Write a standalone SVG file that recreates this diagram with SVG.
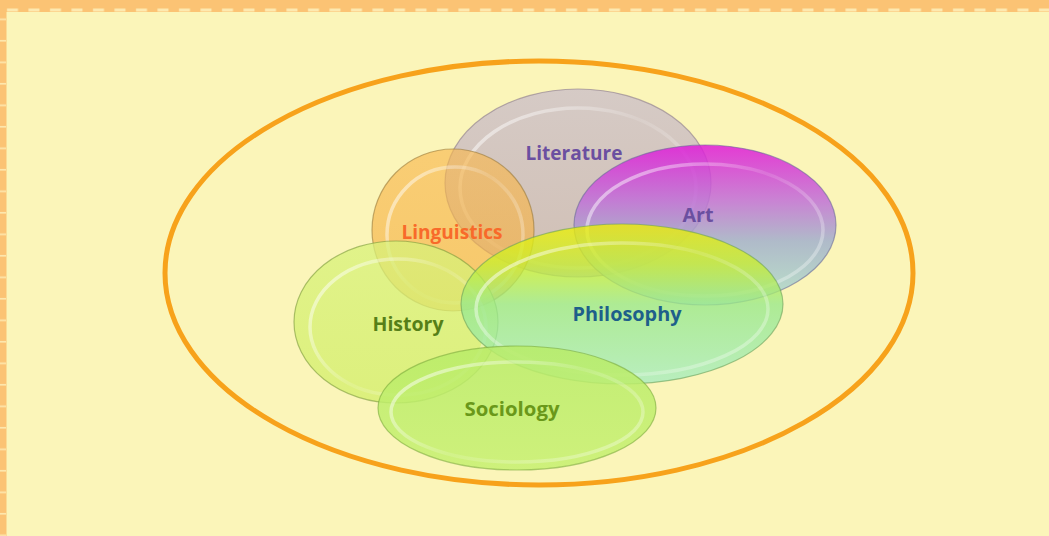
<svg xmlns="http://www.w3.org/2000/svg" width="1049" height="536" viewBox="0 0 1049 536">
<defs>
<style>
.lbl{font-family:"Open Sans","Liberation Sans",sans-serif;font-weight:bold;font-size:19px;text-anchor:middle}
.edge{stroke-width:1.2;stroke-opacity:0.6}
.hl{fill:none;stroke:url(#gHl);stroke-width:3.5}
</style>
<linearGradient id="gHl" x1="0" y1="0.2" x2="1" y2="0.8"><stop offset="0" stop-color="#ffffff" stop-opacity="0.55"/><stop offset="0.5" stop-color="#ffffff" stop-opacity="0.12"/><stop offset="1" stop-color="#ffffff" stop-opacity="0.35"/></linearGradient>
<linearGradient id="gLit" x1="0" y1="0" x2="0" y2="1"><stop offset="0" stop-color="#cfc3c8"/><stop offset="1" stop-color="#c9b6b4"/></linearGradient>
<linearGradient id="gArt" x1="0" y1="0" x2="0" y2="1"><stop offset="0" stop-color="#e01ad8"/><stop offset="0.35" stop-color="#c070d8"/><stop offset="0.6" stop-color="#a2b0cc"/><stop offset="1" stop-color="#b0e0cc"/></linearGradient>
<linearGradient id="gLin" x1="0" y1="0" x2="0" y2="1"><stop offset="0" stop-color="#f8b850"/><stop offset="1" stop-color="#f4b040"/></linearGradient>
<linearGradient id="gHis" x1="0" y1="0" x2="0" y2="1"><stop offset="0" stop-color="#d8f27a"/><stop offset="1" stop-color="#d2ee68"/></linearGradient>
<linearGradient id="gPhi" x1="0" y1="0" x2="0" y2="1"><stop offset="0" stop-color="#f0f000"/><stop offset="0.25" stop-color="#c8ee30"/><stop offset="0.5" stop-color="#98e88a"/><stop offset="1" stop-color="#a6ecc0"/></linearGradient>
<linearGradient id="gSoc" x1="0" y1="0" x2="0" y2="1"><stop offset="0" stop-color="#b8ec68"/><stop offset="1" stop-color="#c6f070"/></linearGradient>
<pattern id="dashTop" x="0" y="0" width="21.5" height="12" patternUnits="userSpaceOnUse">
<rect x="0" y="0" width="21.5" height="12" fill="#fbc374"/>
<rect x="7" y="8.5" width="11" height="3" fill="#fde9b0"/>
</pattern>
<pattern id="dashLeft" x="0" y="0" width="7" height="21.5" patternUnits="userSpaceOnUse">
<rect x="0" y="0" width="7" height="21.5" fill="#fbc374"/>
<rect x="0" y="18.5" width="6" height="1.6" fill="#fde9b0"/>
</pattern>
</defs>
<rect width="1049" height="536" fill="#fbf5b9"/>
<rect x="0" y="0" width="1049" height="12" fill="url(#dashTop)"/>
<rect x="0" y="12" width="6.5" height="524" fill="url(#dashLeft)"/>
<g id="frame">
<ellipse cx="539" cy="273" rx="374" ry="212" fill="none" stroke="#f7a21b" stroke-width="5"/>
</g>
<g id="connectors"></g>
<g id="literature">
<ellipse cx="578" cy="183" rx="133" ry="94" fill="url(#gLit)" fill-opacity="0.85" class="edge" stroke="#8a7a8a"/>
<ellipse cx="578" cy="188" rx="118" ry="80" class="hl"/>
</g>
<g id="art">
<ellipse cx="705" cy="225" rx="131" ry="80" fill="url(#gArt)" fill-opacity="0.85" class="edge" stroke="#6a6a9a"/>
<ellipse cx="705" cy="230" rx="118" ry="66" class="hl"/>
</g>
<g id="linguistics">
<ellipse cx="453" cy="230" rx="81" ry="81" fill="url(#gLin)" fill-opacity="0.65" class="edge" stroke="#9a7a3a"/>
<ellipse cx="455" cy="235" rx="68" ry="68" class="hl"/>
</g>
<g id="history">
<ellipse cx="396" cy="322" rx="102" ry="81" fill="url(#gHis)" fill-opacity="0.75" class="edge" stroke="#7a9a3a"/>
<ellipse cx="398" cy="327" rx="88" ry="68" class="hl"/>
</g>
<g id="philosophy">
<ellipse cx="622" cy="304" rx="161" ry="80" fill="url(#gPhi)" fill-opacity="0.78" class="edge" stroke="#6aa05a"/>
<ellipse cx="622" cy="309" rx="146" ry="66" class="hl"/>
</g>
<g id="sociology">
<ellipse cx="517" cy="408" rx="139" ry="62" fill="url(#gSoc)" fill-opacity="0.85" class="edge" stroke="#7aaa3a"/>
<ellipse cx="517" cy="412" rx="126" ry="50" class="hl"/>
</g>
<g id="labels">
<text class="lbl" x="574" y="160" fill="#6b4fa0" textLength="97" lengthAdjust="spacingAndGlyphs">Literature</text>
<text class="lbl" x="698" y="222" fill="#6b4fa0" textLength="31" lengthAdjust="spacingAndGlyphs">Art</text>
<text class="lbl" x="452" y="239" fill="#f86a2a" textLength="101" lengthAdjust="spacingAndGlyphs">Linguistics</text>
<text class="lbl" x="408" y="331" fill="#567f18" textLength="71" lengthAdjust="spacingAndGlyphs">History</text>
<text class="lbl" x="627" y="321" fill="#1e5f8a" textLength="109" lengthAdjust="spacingAndGlyphs">Philosophy</text>
<text class="lbl" x="512" y="416" fill="#6a981a" textLength="95" lengthAdjust="spacingAndGlyphs">Sociology</text>
</g>
</svg>
